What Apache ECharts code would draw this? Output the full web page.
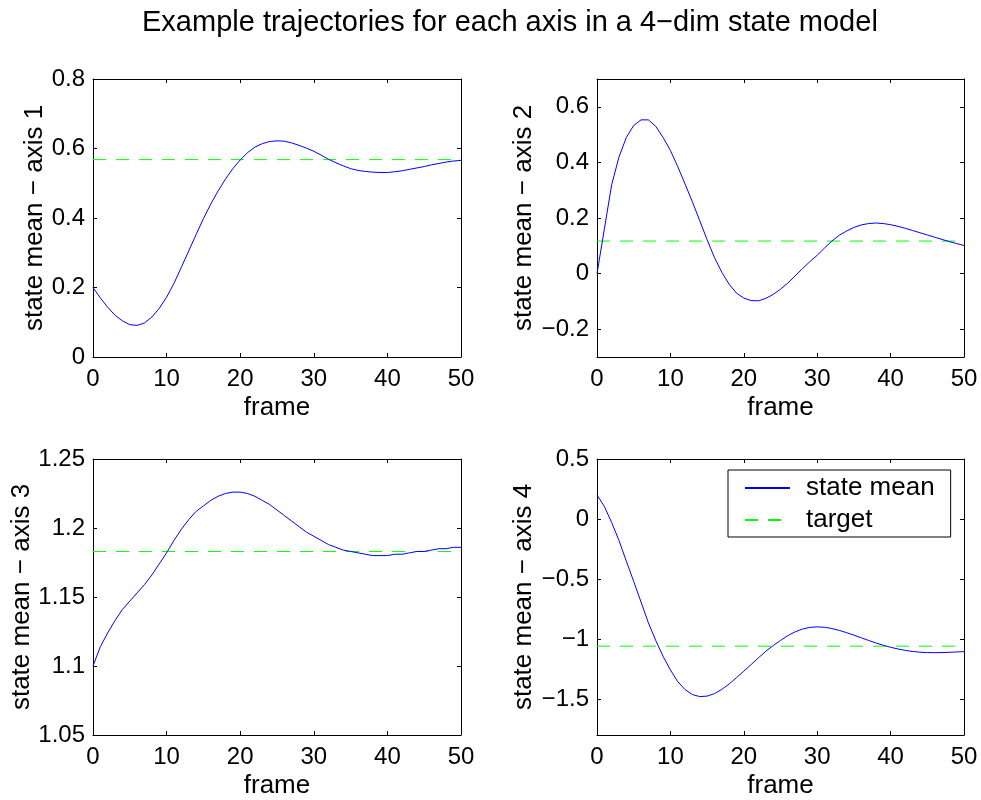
<!DOCTYPE html>
<html>
<head>
<meta charset="utf-8">
<script src="https://cdn.jsdelivr.net/npm/echarts@6/dist/echarts.min.js"></script>
<style>
html, body { margin: 0; padding: 0; background: #fff; }
#chart { width: 981px; height: 800px; }
</style>
</head>
<body>
<div id="chart"></div>
<script>
// values, one per frame (0..50)
var axis1 = [0.200, 0.170, 0.143, 0.120, 0.104, 0.093, 0.091, 0.098, 0.115, 0.140,
    0.172, 0.212, 0.258, 0.305, 0.352, 0.398, 0.440, 0.478, 0.512, 0.542,
    0.567, 0.588, 0.604, 0.614, 0.620, 0.622, 0.621, 0.616, 0.609, 0.601,
    0.592, 0.581, 0.569, 0.559, 0.550, 0.542, 0.537, 0.534, 0.532, 0.531,
    0.531, 0.533, 0.536, 0.540, 0.544, 0.548, 0.553, 0.557, 0.561, 0.564, 0.566];
var axis2 = [0.000, 0.160, 0.320, 0.420, 0.490, 0.533, 0.553, 0.553, 0.530, 0.490,
    0.443, 0.385, 0.322, 0.258, 0.190, 0.122, 0.058, 0.005, -0.038, -0.070,
    -0.088, -0.097, -0.098, -0.089, -0.075, -0.056, -0.034, -0.008, 0.018, 0.043,
    0.066, 0.092, 0.117, 0.138, 0.153, 0.166, 0.175, 0.180, 0.182, 0.180,
    0.176, 0.170, 0.163, 0.155, 0.147, 0.139, 0.131, 0.123, 0.115, 0.108, 0.101];
var axis3 = [1.100, 1.114, 1.124, 1.133, 1.141, 1.147, 1.153, 1.159, 1.166, 1.174,
    1.182, 1.191, 1.199, 1.206, 1.212, 1.216, 1.220, 1.223, 1.225, 1.226,
    1.226, 1.225, 1.223, 1.220, 1.217, 1.213, 1.209, 1.205, 1.201, 1.197,
    1.194, 1.191, 1.188, 1.186, 1.184, 1.183, 1.182, 1.181, 1.180, 1.180,
    1.180, 1.181, 1.181, 1.182, 1.183, 1.183, 1.184, 1.185, 1.185, 1.186, 1.186];
var axis4 = [0.200, 0.105, -0.030, -0.180, -0.352, -0.520, -0.692, -0.865, -1.012, -1.144,
    -1.258, -1.355, -1.422, -1.463, -1.480, -1.476, -1.455, -1.420, -1.375, -1.323,
    -1.268, -1.213, -1.157, -1.102, -1.055, -1.012, -0.972, -0.940, -0.917, -0.903,
    -0.899, -0.902, -0.913, -0.928, -0.947, -0.968, -0.990, -1.012, -1.033, -1.052,
    -1.069, -1.083, -1.095, -1.104, -1.110, -1.113, -1.114, -1.113, -1.111, -1.108, -1.105];
var targets = [0.568, 0.117, 1.183, -1.06];

var xTicks = [0, 10, 20, 30, 40, 50];
var yRanges = [[0, 0.8], [-0.3, 0.7], [1.05, 1.25], [-1.8, 0.5]];
var yTicks = [
    [0, 0.2, 0.4, 0.6, 0.8],
    [-0.2, 0, 0.2, 0.4, 0.6],
    [1.05, 1.1, 1.15, 1.2, 1.25],
    [-1.5, -1, -0.5, 0, 0.5]
];
var yNames = ['state mean \u2212 axis 1', 'state mean \u2212 axis 2', 'state mean \u2212 axis 3', 'state mean \u2212 axis 4'];
var titleText = 'Example trajectories for each axis in a 4\u2212dim state model';

var font = "'Liberation Sans', Arial, Helvetica, sans-serif";
var chart = echarts.init(document.getElementById('chart'));

var grids = [
    { left: 93, top: 79, width: 368, height: 278 },
    { left: 597, top: 79, width: 367, height: 278 },
    { left: 93, top: 459, width: 368, height: 278 },
    { left: 597, top: 459, width: 367, height: 278 }
];
var nameGaps = [45, 60, 58, 60];
var allData = [axis1, axis2, axis3, axis4];

function minus(v) {
    return String(v).replace('-', '\u2212');
}

var xAxes = [], yAxes = [], series = [];
grids.forEach(function (g, i) {
    var line = { show: true, onZero: false, lineStyle: { color: '#000', width: 1 } };
    var tick = { show: true, inside: true, length: 4, lineStyle: { color: '#000' } };
    xAxes.push({
        type: 'value', gridIndex: i, position: 'bottom', min: 0, max: 50,
        axisLine: line,
        axisTick: Object.assign({ customValues: xTicks }, tick),
        axisLabel: { customValues: xTicks, margin: 10, fontSize: 24, color: '#000', fontFamily: font },
        splitLine: { show: false },
        name: 'frame', nameLocation: 'middle', nameGap: 38,
        nameTextStyle: { fontSize: 26, color: '#000', fontFamily: font }
    });
    xAxes.push({
        type: 'value', gridIndex: i, position: 'top', min: 0, max: 50,
        axisLine: line,
        axisTick: Object.assign({ customValues: xTicks }, tick),
        axisLabel: { show: false },
        splitLine: { show: false }
    });
    yAxes.push({
        type: 'value', gridIndex: i, position: 'left',
        min: yRanges[i][0], max: yRanges[i][1],
        axisLine: line,
        axisTick: Object.assign({ customValues: yTicks[i] }, tick),
        axisLabel: { customValues: yTicks[i], margin: 8, fontSize: 24, color: '#000', fontFamily: font, formatter: minus },
        splitLine: { show: false },
        name: yNames[i], nameLocation: 'middle', nameGap: nameGaps[i],
        nameTextStyle: { fontSize: 26, color: '#000', fontFamily: font }
    });
    yAxes.push({
        type: 'value', gridIndex: i, position: 'right',
        min: yRanges[i][0], max: yRanges[i][1],
        axisLine: line,
        axisTick: Object.assign({ customValues: yTicks[i] }, tick),
        axisLabel: { show: false },
        splitLine: { show: false }
    });
    series.push({
        name: 'state mean', type: 'line',
        xAxisIndex: 2 * i, yAxisIndex: 2 * i,
        data: allData[i].map(function (v, k) { return [k, v]; }),
        symbol: 'none', showSymbol: false,
        lineStyle: { color: '#0000ff', width: 1 },
        itemStyle: { color: '#0000ff' },
        z: 3
    });
    series.push({
        name: 'target', type: 'line',
        xAxisIndex: 2 * i, yAxisIndex: 2 * i,
        data: [[0, targets[i]], [50, targets[i]]],
        symbol: 'none', showSymbol: false,
        lineStyle: { color: '#00ff00', width: 1, type: [13, 10] },
        itemStyle: { color: '#00ff00' },
        z: 2
    });
});

var option = {
    animation: false,
    backgroundColor: '#fff',
    title: {
        text: titleText,
        left: 137, top: 3,
        padding: 5,
        textStyle: { fontSize: 29, fontWeight: 'normal', color: '#000', fontFamily: font }
    },
    legend: {
        data: ['state mean', 'target'],
        orient: 'vertical',
        left: 728, top: 470,
        itemWidth: 45, itemHeight: 13, itemGap: 6,
        padding: [5, 16, 4, 16],
        borderColor: '#000', borderWidth: 1, backgroundColor: '#fff',
        selectedMode: false,
        itemStyle: { opacity: 0 },
        textStyle: { fontSize: 26, lineHeight: 26, color: '#000', fontFamily: font, padding: [0, 0, 0, 11] }
    },
    grid: grids,
    xAxis: xAxes,
    yAxis: yAxes,
    series: series
};

chart.setOption(option);
window.addEventListener('resize', function () {
    chart.resize();
});
</script>
</body>
</html>
